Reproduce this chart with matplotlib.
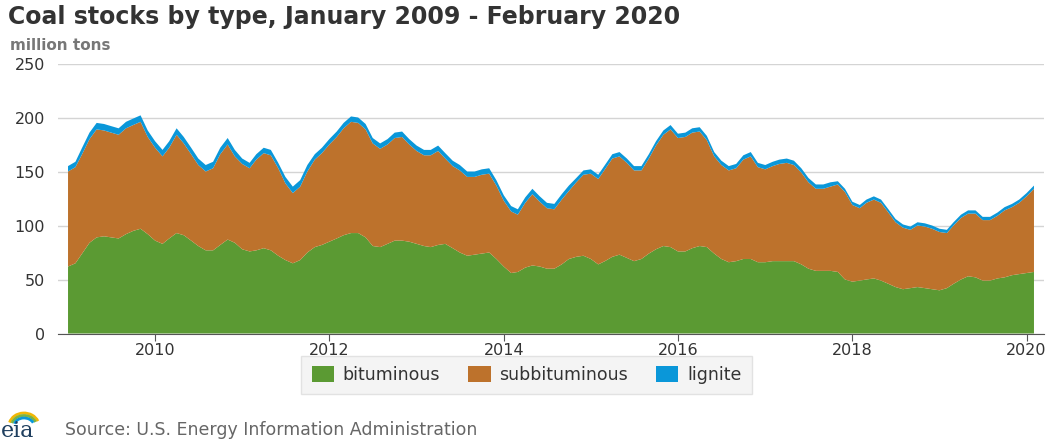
import numpy as np
import pandas as pd
import matplotlib
matplotlib.use("Agg")
import matplotlib.pyplot as plt
import matplotlib.dates as mdates
from matplotlib.patches import Arc

# monthly stocks, million tons, Jan 2009 - Feb 2020
months = pd.date_range("2009-01-01", periods=134, freq="MS")

# top of the stack (all three types)
total = [155, 159, 172, 186, 195, 194, 192, 190, 196, 199, 202, 188,
         178, 170, 178, 190, 182, 172, 162, 156, 159, 172, 181, 170,
         162, 158, 166, 172, 170, 158, 145, 136, 142, 156, 166, 172,
         180, 187, 195, 201, 200, 194, 181, 176, 180, 186, 187, 180,
         174, 170, 170, 174, 167, 160, 156, 150, 150, 152, 153, 142,
         128, 118, 115, 126, 134, 127, 121, 120, 129, 137, 144, 151,
         152, 147, 156, 166, 168, 162, 155, 155, 166, 178, 188, 193,
         185, 186, 190, 191, 183, 168, 160, 155, 157, 165, 168, 158,
         156, 159, 161, 162, 160, 153, 144, 138, 138, 140, 141, 134,
         122, 119, 124, 127, 124, 115, 106, 101, 99, 103, 102, 100,
         97, 96, 103, 110, 114, 114, 108, 108, 112, 117, 120, 124,
         130, 137]

bituminous = [62, 65, 74, 84, 89, 90, 89, 88, 92, 95, 97, 92,
              86, 83, 88, 93, 91, 86, 81, 77, 77, 82, 87, 84,
              78, 76, 77, 79, 77, 72, 68, 65, 68, 75, 80, 82,
              85, 88, 91, 93, 93, 89, 81, 80, 83, 86, 86, 85,
              83, 81, 80, 82, 83, 79, 75, 72, 73, 74, 75, 69,
              62, 56, 57, 61, 63, 62, 60, 60, 64, 69, 71, 72,
              69, 64, 67, 71, 73, 70, 67, 69, 74, 78, 81, 80,
              76, 76, 79, 81, 80, 74, 69, 66, 67, 69, 69, 66,
              66, 67, 67, 67, 67, 64, 60, 58, 58, 58, 57, 50,
              48, 49, 50, 51, 49, 46, 43, 41, 42, 43, 42, 41,
              40, 42, 46, 50, 53, 52, 49, 49, 51, 52, 54, 55,
              56, 57]

lignite = [5, 5, 6, 6, 6, 6, 6, 6, 6, 6, 6, 6,
           6, 6, 6, 6, 6, 6, 6, 6, 6, 6, 6, 6,
           5, 5, 5, 5, 5, 5, 6, 6, 6, 6, 5, 5,
           5, 5, 5, 5, 5, 5, 5, 5, 5, 5, 5, 5,
           5, 5, 5, 5, 5, 5, 5, 5, 5, 5, 5, 5,
           5, 5, 5, 5, 5, 5, 5, 5, 5, 5, 4, 4,
           4, 4, 4, 4, 4, 4, 4, 4, 4, 4, 4, 4,
           4, 4, 4, 4, 4, 4, 4, 4, 4, 4, 4, 4,
           4, 4, 4, 4, 4, 4, 4, 4, 4, 4, 3, 3,
           3, 3, 3, 3, 3, 3, 3, 3, 3, 3, 3, 3,
           3, 3, 3, 3, 3, 3, 3, 3, 3, 3, 3, 3,
           3, 3]

subbituminous = np.array(total) - np.array(bituminous) - np.array(lignite)

labels = ["bituminous", "subbituminous", "lignite"]
colors = ["#5b9a33", "#bd722c", "#0a97d9"]
year_ticks = [2010, 2012, 2014, 2016, 2018, 2020]

plt.rcParams["font.family"] = ["DejaVu Sans"]

fig = plt.figure(figsize=(10.53, 4.40), dpi=100)
ax = fig.add_axes([58 / 1053, 1 - 333.5 / 440, (1044 - 58) / 1053, 270 / 440])

ax.stackplot(months, bituminous, subbituminous, lignite,
             colors=colors, labels=labels, linewidth=0)

ax.set_ylim(0, 250)
ax.set_yticks([0, 50, 100, 150, 200, 250])
ax.set_xlim(pd.Timestamp("2008-11-20"), pd.Timestamp("2020-03-14"))
ax.set_xticks([pd.Timestamp(f"{y}-01-01") for y in year_ticks])
ax.xaxis.set_major_formatter(mdates.DateFormatter("%Y"))

ax.grid(axis="y", color="#d4d4d4", linewidth=1)
ax.set_axisbelow(True)
for s in ["top", "right", "left"]:
    ax.spines[s].set_visible(False)
ax.spines["bottom"].set_color("#555555")
ax.tick_params(axis="y", length=0, pad=9.5, labelsize=11.5, labelcolor="#333333")
ax.tick_params(axis="x", length=5, color="#555555", labelsize=11.5,
               labelcolor="#333333", pad=2)

fig.text(8 / 1053, 1 - 17 / 440, "Coal stocks by type, January 2009 - February 2020",
         fontsize=17, fontweight="bold", color="#333333", va="center")
fig.text(10 / 1053, 1 - 45 / 440, "million tons", fontsize=11,
         fontweight="bold", color="#777777", va="center")

leg = fig.legend(loc="center", bbox_to_anchor=(0.5, 1 - 375 / 440), ncol=3,
                 frameon=True, fontsize=12.5, handlelength=1.3, handleheight=1.0,
                 columnspacing=1.6, handletextpad=0.5, borderpad=0.3,
                 borderaxespad=0)
leg.get_frame().set_facecolor("#f2f2f2")
leg.get_frame().set_edgecolor("#dddddd")
leg.get_frame().set_boxstyle("square")
for t in leg.get_texts():
    t.set_color("#333333")

# eia logo: word mark with small coloured arcs
fig.text(1 / 1053, 1 - 431 / 440, "eia", fontsize=16, family="DejaVu Serif",
         color="#1f3f5f", va="center")
for i, c in enumerate(["#f2b705", "#7cb342", "#0a97d9"]):
    fig.add_artist(Arc((24 / 1053, 1 - 426 / 440), (30 - 5 * i) / 1053,
                       (26 - 5 * i) / 440, theta1=40, theta2=150, color=c,
                       linewidth=2, transform=fig.transFigure))
fig.text(65 / 1053, 1 - 430 / 440, "Source: U.S. Energy Information Administration",
         fontsize=12.5, color="#666666", va="center")

fig.savefig("out.png", dpi=100)
